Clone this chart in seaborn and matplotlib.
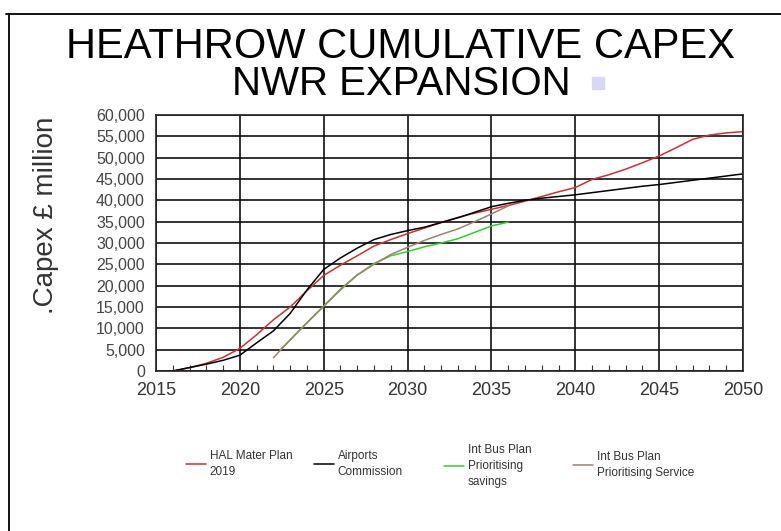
import numpy as np
import pandas as pd
import matplotlib
matplotlib.use("Agg")
import matplotlib.pyplot as plt
from matplotlib.lines import Line2D
from matplotlib.ticker import FuncFormatter, MultipleLocator
import seaborn as sns

# ---- data ----
hal_years = [2016, 2017, 2018, 2019, 2020, 2021, 2022, 2023, 2024, 2025, 2026, 2027,
             2028, 2029, 2030, 2031, 2032, 2033, 2034, 2035, 2036, 2037, 2038, 2039,
             2040, 2041, 2042, 2043, 2044, 2045, 2046, 2047, 2048, 2049, 2050]
hal_values = [0, 800, 1800, 3200, 5300, 8500, 12000, 15000, 18800, 22400, 24800, 27000,
              29300, 30800, 32200, 33500, 34800, 36000, 37000, 37900, 38800, 39800, 40900, 42000,
              43000, 44900, 46000, 47300, 48800, 50400, 52300, 54300, 55300, 55800, 56100]

ac_years = hal_years
ac_values = [0, 800, 1600, 2500, 3700, 6600, 9400, 13500, 19000, 23800, 26500, 28800,
             30800, 32000, 32900, 33700, 34800, 35900, 37200, 38500, 39300, 40000, 40500, 40900,
             41300, 41800, 42300, 42800, 43300, 43700, 44200, 44700, 45200, 45700, 46200]

sav_years = [2022.4, 2023, 2024, 2025, 2026, 2027, 2028, 2029, 2030, 2031, 2032, 2033, 2034, 2035, 2036]
sav_values = [4900, 7300, 11300, 15200, 19000, 22500, 25200, 27000, 28000, 29100, 30000, 31000, 32500, 34000, 34900]

srv_years = [2022.0, 2023, 2024, 2025, 2026, 2027, 2028, 2029, 2030, 2031, 2032, 2033, 2034, 2035, 2036]
srv_values = [3100, 7300, 11300, 15200, 19200, 22500, 25000, 27300, 29000, 30600, 32000, 33300, 35000, 36800, 38700]

series_labels = ["HAL Mater Plan\n2019", "Airports\nCommission",
                 "Int Bus Plan\nPrioritising\nsavings", "Int Bus Plan\nPrioritising Service"]
series_colors = ["#c83232", "#000000", "#33cc33", "#a08070"]

title_line1 = "HEATHROW CUMULATIVE CAPEX"
title_line2 = "NWR EXPANSION"
ylabel_text = ".Capex £ million"

# ---- plotting ----
sns.set_style("white")
plt.rcParams["font.family"] = ["Liberation Sans", "DejaVu Sans"]

W, H = 781, 531
fig = plt.figure(figsize=(W / 100, H / 100), dpi=100)
ax = fig.add_axes([156 / W, 1 - 371 / H, (743 - 156) / W, (371 - 115) / H])

data = [(hal_years, hal_values), (ac_years, ac_values),
        (sav_years, sav_values), (srv_years, srv_values)]
for (xs, ys), lab, col in zip(data, series_labels, series_colors):
    df = pd.DataFrame({"year": xs, "capex": ys})
    sns.lineplot(data=df, x="year", y="capex", color=col, linewidth=1.1, ax=ax, label=lab)

ax.set_xlim(2015, 2050)
ax.set_ylim(0, 60000)
ax.xaxis.set_major_locator(MultipleLocator(5))
ax.xaxis.set_minor_locator(MultipleLocator(1))
ax.yaxis.set_major_locator(MultipleLocator(5000))
ax.yaxis.set_major_formatter(FuncFormatter(lambda v, p: f"{int(v):,}"))
ax.grid(True, which="major", color="#111111", linewidth=1.2)
ax.set_axisbelow(True)
for s in ax.spines.values():
    s.set_color("#222222")
    s.set_linewidth(1.2)
    s.set_visible(True)
ax.tick_params(axis="x", which="major", length=0, labelsize=13, colors="#333333", pad=8)
ax.tick_params(axis="x", which="minor", direction="in", length=4, width=0.8, color="#333333", bottom=True)
ax.tick_params(axis="y", which="major", length=0, labelsize=11.5, colors="#444444", pad=8)
ax.set_xlabel("")
ax.set_ylabel("")

# titles and y label
fig.text(400 / W, 1 - 47 / H, title_line1, ha="center", va="center", fontsize=30, color="#000000")
fig.text(401 / W, 1 - 84 / H, title_line2, ha="center", va="center", fontsize=29, color="#000000")
fig.text(46 / W, 1 - 215 / H, ylabel_text, rotation=90, ha="center", va="center",
         fontsize=20, color="#333333")
# small stray marker next to the title
fig.add_artist(Line2D([598 / W], [1 - 83 / H], marker="s", markersize=9,
                      color="#d8d8f6", linestyle="none"))

# legend entries placed individually
handles, labels = ax.get_legend_handles_labels()
ax.get_legend().remove()
leg_x = [186, 314, 444, 573]
leg_y = [464, 464, 466, 465]
for h, l, lx, ly in zip(handles, labels, leg_x, leg_y):
    lg = fig.legend([h], [l], loc="center left", bbox_to_anchor=(lx / W, 1 - ly / H),
                    frameon=False, fontsize=8.5, handlelength=1.7, handletextpad=0.3,
                    borderpad=0, borderaxespad=0, labelcolor="#333333")
    for t in lg.get_texts():
        t.set_linespacing(1.45)

# page border
fig.add_artist(Line2D([9 / W, 9 / W], [0, 1 - 14 / H], color="black", linewidth=1.3))
fig.add_artist(Line2D([6 / W, 1], [1 - 14 / H, 1 - 14 / H], color="black", linewidth=1.3))

fig.savefig("out.png", dpi=100)
